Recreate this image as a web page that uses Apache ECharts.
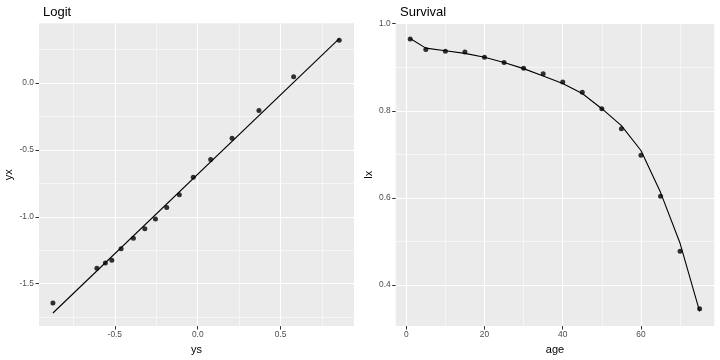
<!DOCTYPE html>
<html><head><meta charset="utf-8">
<script src="https://cdn.jsdelivr.net/npm/echarts@6/dist/echarts.min.js"></script>
<style>html,body{margin:0;padding:0;background:#fff}#c{width:720px;height:360px}</style>
</head><body><div id="c"></div>
<script>
// Logit panel data
var ys = [-0.873, -0.608, -0.557, -0.518, -0.462, -0.388, -0.319, -0.255, -0.187, -0.111, -0.027, 0.078, 0.207, 0.369, 0.578, 0.853];
var yx = [-1.644, -1.384, -1.345, -1.324, -1.238, -1.161, -1.089, -1.017, -0.930, -0.836, -0.705, -0.571, -0.414, -0.206, 0.047, 0.320];
var fitX = [-0.873, 0.853];
var fitY = [-1.719, 0.332];
// Survival panel data
var ages = [1, 5, 10, 15, 20, 25, 30, 35, 40, 45, 50, 55, 60, 65, 70, 75];
var lx = [0.965, 0.941, 0.937, 0.935, 0.923, 0.911, 0.898, 0.885, 0.866, 0.843, 0.805, 0.759, 0.698, 0.604, 0.478, 0.346];
var lxFit = [0.966, 0.944, 0.938, 0.932, 0.923, 0.911, 0.897, 0.880, 0.863, 0.840, 0.805, 0.766, 0.709, 0.613, 0.496, 0.340];
// Tick values
var logitXMajor = [-0.5, 0, 0.5], logitXMinor = [-0.75, -0.25, 0.25, 0.75];
var logitYMajor = [-1.5, -1, -0.5, 0], logitYMinor = [-1.75, -1.25, -0.75, -0.25, 0.25];
var ageMajor = [0, 20, 40, 60], ageMinor = [10, 30, 50, 70];
var lxMajor = [0.4, 0.6, 0.8, 1.0], lxMinor = [0.5, 0.7, 0.9];

var FONT = 'Liberation Sans, Arial, sans-serif';
function fmt1(v){ return v.toFixed(1); }
function fmt0(v){ return String(Math.round(v)); }
function majorAxis(type, grid, min, max, vals, fmt, name, gap){
  return {
    type: 'value', gridIndex: grid, min: min, max: max, position: type === 'x' ? 'bottom' : 'left',
    name: name, nameLocation: 'middle', nameGap: gap,
    nameTextStyle: {fontFamily: FONT, fontSize: 11, color: '#000'},
    axisLine: {show: false, onZero: false},
    axisTick: {show: true, length: 3.5, customValues: vals, lineStyle: {color: '#333333', width: 1}},
    axisLabel: {show: true, customValues: vals, formatter: fmt, margin: 5, fontFamily: FONT, fontSize: 8.4, color: '#4D4D4D'},
    splitLine: {show: true, lineStyle: {color: '#FFFFFF', width: 1.1}},
    z: 2
  };
}
function minorAxis(type, grid, min, max, vals){
  return {
    type: 'value', gridIndex: grid, min: min, max: max, position: type === 'x' ? 'bottom' : 'left',
    axisLine: {show: false, onZero: false},
    axisTick: {show: false, customValues: vals},
    axisLabel: {show: false, customValues: vals},
    splitLine: {show: true, lineStyle: {color: '#FFFFFF', width: 0.55}},
    z: 1
  };
}
var chart = echarts.init(document.getElementById('c'), null, {renderer: 'canvas'});
chart.setOption({
  animation: false,
  backgroundColor: '#FFFFFF',
  title: [
    {text: 'Logit', left: 38, top: 1, textStyle: {fontFamily: FONT, fontSize: 13, fontWeight: 'normal', color: '#000'}},
    {text: 'Survival', left: 395, top: 1, textStyle: {fontFamily: FONT, fontSize: 13, fontWeight: 'normal', color: '#000'}}
  ],
  grid: [
    {left: 39, right: 366, top: 23.3, bottom: 32.3, show: true, backgroundColor: '#EBEBEB', borderWidth: 0},
    {left: 395.7, right: 5.7, top: 23.3, bottom: 32.3, show: true, backgroundColor: '#EBEBEB', borderWidth: 0}
  ],
  xAxis: [
    majorAxis('x', 0, -0.957, 0.942, logitXMajor, fmt1, 'ys', 13),
    minorAxis('x', 0, -0.957, 0.942, logitXMinor),
    majorAxis('x', 1, -2.7, 78.75, ageMajor, fmt0, 'age', 13),
    minorAxis('x', 1, -2.7, 78.75, ageMinor)
  ],
  yAxis: [
    majorAxis('y', 0, -1.817, 0.446, logitYMajor, fmt1, 'yx', 25),
    minorAxis('y', 0, -1.817, 0.446, logitYMinor),
    majorAxis('y', 1, 0.306, 1.001, lxMajor, fmt1, 'lx', 21),
    minorAxis('y', 1, 0.306, 1.001, lxMinor)
  ],
  series: [
    {type: 'line', xAxisIndex: 0, yAxisIndex: 0, data: fitX.map(function(x,i){return [x, fitY[i]];}),
     showSymbol: false, symbol: 'none', lineStyle: {color: '#000', width: 1.1}, z: 3},
    {type: 'scatter', xAxisIndex: 0, yAxisIndex: 0, data: ys.map(function(x,i){return [x, yx[i]];}),
     symbolSize: 5, itemStyle: {color: '#000'}, z: 4},
    {type: 'line', xAxisIndex: 2, yAxisIndex: 2, data: ages.map(function(a,i){return [a, lxFit[i]];}),
     showSymbol: false, symbol: 'none', lineStyle: {color: '#000', width: 1.1}, z: 3},
    {type: 'scatter', xAxisIndex: 2, yAxisIndex: 2, data: ages.map(function(a,i){return [a, lx[i]];}),
     symbolSize: 5, itemStyle: {color: '#000'}, z: 4}
  ]
});
</script></body></html>
